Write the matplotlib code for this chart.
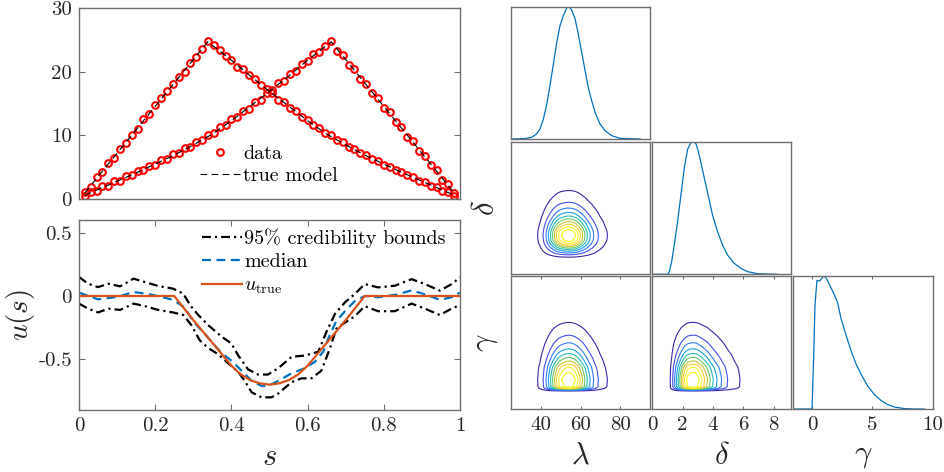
import numpy as np
import matplotlib
matplotlib.use("Agg")
import matplotlib.pyplot as plt
from matplotlib.colors import LinearSegmentedColormap

plt.rcParams['font.family'] = 'serif'
plt.rcParams['font.serif'] = ['cmr10']
plt.rcParams['mathtext.fontset'] = 'cm'
plt.rcParams['axes.formatter.use_mathtext'] = True
plt.rcParams['axes.unicode_minus'] = False

# ---- top-left: observations and true model
s_obs = np.arange(1, 65) / 65
obs1 = [1.1, 1.9, 3.4, 4.2, 5.6, 6.5, 7.9, 8.8, 10.1, 11.0,
        12.5, 13.3, 14.7, 15.8, 16.9, 18.0, 19.2, 20.0, 21.4, 22.3,
        23.5, 24.8, 24.2, 23.4, 22.4, 21.9, 20.8, 20.4, 19.4, 18.9,
        17.9, 17.2, 16.6, 15.6, 15.2, 14.3, 13.8, 12.9, 12.4, 11.6,
        11.2, 10.4, 10.0, 9.2, 8.9, 8.2, 7.9, 7.2, 6.9, 6.3,
        6.0, 5.4, 5.1, 4.5, 4.3, 3.7, 3.5, 2.9, 2.7, 2.1,
        1.9, 1.3, 1.1, 0.5]
obs2 = [0.4, 1.1, 1.3, 2.0, 2.1, 2.8, 2.9, 3.6, 3.7, 4.4,
        4.5, 5.2, 5.4, 6.1, 6.3, 7.0, 7.2, 8.0, 8.2, 9.0,
        9.2, 10.1, 10.4, 11.3, 11.6, 12.5, 12.9, 13.9, 14.2, 15.3,
        15.6, 16.7, 17.1, 18.2, 18.6, 19.7, 20.1, 21.2, 21.6, 22.7,
        23.1, 24.1, 24.8, 23.3, 22.6, 21.1, 20.4, 18.8, 18.1, 16.6,
        15.9, 14.3, 13.6, 12.1, 11.3, 9.8, 9.1, 7.5, 6.8, 5.3,
        4.5, 3.0, 2.3, 1.0]
s_mod1 = [0.015, 0.338, 0.40, 0.45, 0.50, 0.55, 0.60, 0.65, 0.70, 0.75, 0.80, 0.85, 0.90, 0.95, 0.985]
mod1 = [0.95, 24.7, 21.8, 19.3, 16.9, 14.6, 12.3, 10.2, 8.5, 6.9, 5.5, 4.1, 2.8, 1.5, 0.6]
s_mod2 = [0.015, 0.05, 0.10, 0.15, 0.20, 0.25, 0.30, 0.35, 0.40, 0.45, 0.50, 0.55, 0.60, 0.662, 0.985]
mod2 = [0.6, 1.5, 2.8, 4.1, 5.5, 6.9, 8.5, 10.2, 12.3, 14.6, 16.9, 19.3, 21.8, 24.7, 0.95]

# ---- bottom-left: posterior of u(s)
s_up = [0.0, 0.024, 0.05, 0.077, 0.108, 0.143, 0.173, 0.208, 0.247, 0.274, 0.292, 0.313, 0.339,
        0.374, 0.40, 0.418, 0.444, 0.47, 0.496, 0.523, 0.558, 0.593, 0.628, 0.65, 0.672, 0.698,
        0.724, 0.75, 0.785, 0.829, 0.873, 0.908, 0.947, 0.978, 1.0]
u_up = [0.15, 0.097, 0.07, 0.097, 0.076, 0.137, 0.11, 0.079, 0.058, 0.018, -0.074, -0.15, -0.23,
        -0.32, -0.375, -0.47, -0.58, -0.62, -0.62, -0.57, -0.48, -0.47, -0.44, -0.28, -0.14, -0.05,
        0.016, 0.094, 0.068, 0.081, 0.133, 0.094, 0.042, 0.094, 0.147]
s_lo = [0.0, 0.024, 0.05, 0.077, 0.108, 0.143, 0.173, 0.208, 0.247, 0.274, 0.295, 0.317, 0.339,
        0.365, 0.391, 0.418, 0.435, 0.453, 0.479, 0.505, 0.523, 0.558, 0.584, 0.61, 0.636, 0.658,
        0.675, 0.698, 0.724, 0.75, 0.785, 0.829, 0.873, 0.908, 0.947, 0.978, 1.0]
u_lo = [-0.06, -0.10, -0.13, -0.10, -0.11, -0.06, -0.08, -0.11, -0.13, -0.15, -0.23, -0.35, -0.41,
        -0.46, -0.53, -0.60, -0.67, -0.76, -0.80, -0.80, -0.77, -0.68, -0.65, -0.65, -0.59, -0.42,
        -0.26, -0.21, -0.16, -0.08, -0.12, -0.12, -0.06, -0.10, -0.15, -0.10, -0.07]
s_med = [0.0, 0.05, 0.10, 0.143, 0.19, 0.247, 0.277, 0.30, 0.339, 0.374, 0.40, 0.427, 0.453,
         0.479, 0.496, 0.523, 0.558, 0.593, 0.619, 0.641, 0.658, 0.675, 0.698, 0.724, 0.75,
         0.785, 0.837, 0.873, 0.908, 0.947, 0.978, 1.0]
u_med = [0.027, -0.026, -0.008, 0.032, 0.011, -0.03, -0.09, -0.20, -0.33, -0.45, -0.51, -0.59, -0.67,
         -0.71, -0.71, -0.67, -0.61, -0.57, -0.52, -0.44, -0.31, -0.20, -0.12, -0.04, 0.0,
         -0.01, 0.013, 0.045, 0.013, -0.03, -0.01, 0.027]
s_true = [0.0, 0.25, 0.30, 0.35, 0.40, 0.425, 0.45, 0.475, 0.50, 0.525, 0.55, 0.575, 0.60, 0.65, 0.70, 0.75, 1.0]
u_true = [0.0, 0.0, -0.19, -0.37, -0.55, -0.62, -0.665, -0.69, -0.70, -0.69, -0.665, -0.62, -0.55, -0.37, -0.19, 0.0, 0.0]

# ---- corner plot: marginal densities (relative to peak)
lam = [25.0, 32.2, 35.5, 38.0, 39.7, 41.4, 43.1, 44.7, 46.4, 48.1, 49.7, 51.4, 53.1, 54.3, 55.6,
       57.3, 58.9, 60.6, 62.3, 63.9, 65.6, 67.3, 69.8, 72.3, 75.7, 79.8, 89.9]
p_lam = [0.0, 0.003, 0.013, 0.038, 0.076, 0.151, 0.264, 0.403, 0.567, 0.730, 0.856, 0.932, 0.990, 1.0,
         0.975, 0.907, 0.793, 0.655, 0.516, 0.390, 0.290, 0.202, 0.113, 0.063, 0.025, 0.005, 0.0]
dlt = [0.0, 1.01, 1.12, 1.28, 1.45, 1.67, 1.89, 2.11, 2.33, 2.55, 2.73, 2.88, 3.03, 3.21, 3.43, 3.65,
       3.97, 4.30, 4.63, 4.96, 5.40, 5.84, 6.28, 6.93, 8.03, 8.25]
p_dlt = [0.0, 0.0, 0.02, 0.096, 0.222, 0.399, 0.601, 0.803, 0.942, 0.995, 1.0, 0.985, 0.929, 0.841,
         0.727, 0.614, 0.449, 0.323, 0.222, 0.146, 0.083, 0.045, 0.020, 0.005, 0.0, 0.0]
gam = [-1.5, 0.0, 0.14, 0.25, 0.41, 0.61, 0.75, 0.97, 1.16, 1.44, 1.85, 2.13, 2.40, 2.82, 3.23, 3.65,
       4.06, 4.61, 5.17, 5.72, 6.27, 6.82, 7.65, 8.48, 9.3]
p_gam = [0.0, 0.0, 0.402, 0.784, 0.967, 0.962, 0.975, 1.0, 0.987, 0.936, 0.860, 0.796, 0.682, 0.555,
         0.440, 0.338, 0.262, 0.173, 0.109, 0.064, 0.033, 0.015, 0.003, 0.0, 0.0]

lam_lim = (25, 95)
dlt_lim = (0, 9.15)
gam_lim = (-1.55, 10)

BLUE = '#0072BD'
ORANGE = '#D95319'
FRAME = '#6e6e6e'
TXT = '#262626'
parula = LinearSegmentedColormap.from_list('parula', [
    (0.2422, 0.1504, 0.6603), (0.2810, 0.3228, 0.9579), (0.1786, 0.5289, 0.9682),
    (0.0689, 0.6948, 0.8394), (0.2161, 0.7843, 0.5923), (0.6720, 0.7793, 0.2227),
    (0.9970, 0.7659, 0.2199), (0.9657, 0.9494, 0.1638), (0.9769, 0.9839, 0.0805)])

W, H = 944, 472


def box(x0, y0, x1, y1):
    return [x0 / W, 1 - y1 / H, (x1 - x0) / W, (y1 - y0) / H]


def frame(ax, size=15, length=4):
    for sp in ax.spines.values():
        sp.set_color(FRAME)
        sp.set_linewidth(1.0)
    ax.tick_params(direction='in', color=FRAME, labelcolor=TXT, labelsize=size,
                   top=True, right=True, length=length, width=0.8, pad=5)


fig = plt.figure(figsize=(9.44, 4.72), dpi=100)

# top-left
ax = fig.add_axes(box(79, 8, 460, 199))
ax.plot(s_obs, obs1, 'o', mfc='none', mec='red', ms=4.8, mew=1.5, label='data')
ax.plot(s_obs, obs2, 'o', mfc='none', mec='red', ms=4.8, mew=1.5)
ax.plot(s_mod1, mod1, '--', color='black', lw=0.8, label='true model', dashes=(6, 4))
ax.plot(s_mod2, mod2, '--', color='black', lw=0.8, dashes=(6, 4))
ax.set_xlim(0, 1)
ax.set_ylim(0, 30)
ax.set_xticks([])
ax.set_yticks([0, 10, 20, 30])
ax.set_yticklabels(['0', '10', '20', '30'])
frame(ax)
ax.legend(loc='center left', bbox_to_anchor=((200 - 79) / 381, (199 - 164.7) / 191),
          frameon=False, fontsize=14.5, borderpad=0, borderaxespad=0, handlelength=2.0,
          handletextpad=0.15, labelspacing=0.2)

# bottom-left
ax = fig.add_axes(box(79, 220, 460, 410))
ax.plot(s_up, u_up, '-.', color='black', lw=1.6, dashes=(4, 1.8, 1, 1.8),
        label='95% credibility bounds')
ax.plot(s_lo, u_lo, '-.', color='black', lw=1.6, dashes=(4, 1.8, 1, 1.8))
ax.plot(s_med, u_med, '--', color=BLUE, lw=1.6, dashes=(4, 2.5), label='median')
ax.plot(s_true, u_true, '-', color=ORANGE, lw=1.6, label=r'$u_{\rm true}$')
ax.set_xlim(0, 1)
ax.set_ylim(-0.9, 0.6)
ax.set_xticks([0, 0.2, 0.4, 0.6, 0.8, 1])
ax.set_xticklabels(['0', '0.2', '0.4', '0.6', '0.8', '1'])
ax.set_yticks([-0.5, 0, 0.5])
ax.set_yticklabels(['-0.5', '0', '0.5'])
frame(ax)
ax.set_xlabel('$s$', fontsize=22, color=TXT, labelpad=6)
ax.set_ylabel('$u(s)$', fontsize=21, color=TXT, labelpad=1)
ax.legend(loc='upper right', bbox_to_anchor=((446 - 79) / 381, 0.955), frameon=False,
          fontsize=14.5, borderpad=0, borderaxespad=0, handlelength=2.0,
          handletextpad=0.1, labelspacing=0.25)

# corner plot
cols = [(510.7, 650.3), (652.3, 791.0), (793.3, 932.7)]
rows = [(6.7, 139.0), (141.7, 274.3), (276.0, 409.0)]
grids = [(lam, p_lam, lam_lim), (dlt, p_dlt, dlt_lim), (gam, p_gam, gam_lim)]
names = [r'$\lambda$', r'$\delta$', r'$\gamma$']
ticks = [([40, 60, 80], ['40', '60', '80']),
         ([0, 2, 4, 6, 8], ['0', '2', '4', '6', '8']),
         ([0, 5, 10], ['0', '5', '10'])]
levels = np.linspace(0.05, 0.9, 10)

for i in range(3):
    for j in range(i + 1):
        ax = fig.add_axes(box(cols[j][0], rows[i][0], cols[j][1], rows[i][1]))
        xv, px, xlim = grids[j]
        if i == j:
            ax.plot(xv, px, color=BLUE, lw=0.9)
            ax.set_ylim(0, 1.0)
        else:
            yv, py, ylim = grids[i]
            z = np.outer(py, px)
            ax.contour(xv, yv, z, levels=levels, cmap=parula,
                       vmin=levels[0], vmax=levels[-1], linewidths=0.8)
            ax.set_ylim(*ylim)
        ax.set_xlim(*xlim)
        ax.set_yticks([])
        frame(ax, length=2.5)
        if i == 2:
            ax.set_xticks(ticks[j][0])
            ax.set_xticklabels(ticks[j][1])
            ax.set_xlabel(names[j], fontsize=22, color=TXT, labelpad=6)
        else:
            ax.set_xticks([])
        if j == 0 and i > 0:
            ax.set_ylabel(names[i], fontsize=22, color=TXT, labelpad=8)

fig.savefig('out.png', dpi=100)
